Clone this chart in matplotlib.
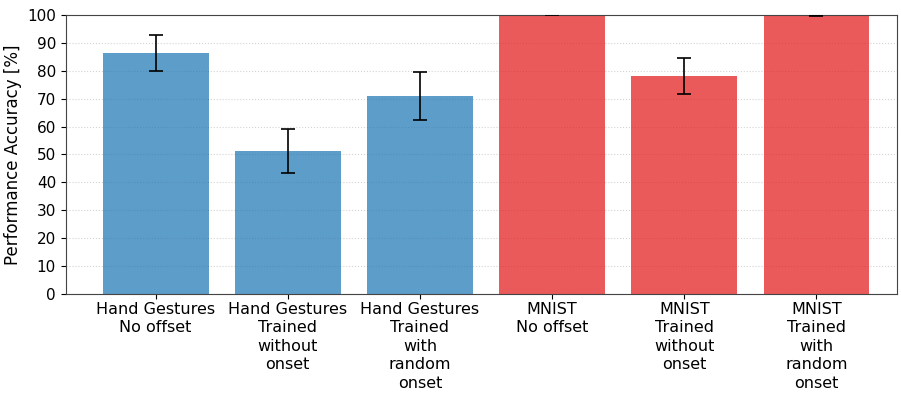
import numpy as np
import matplotlib.pyplot as plt

labels = ['Hand Gestures\nNo offset', 'Hand Gestures\nTrained\nwithout\nonset',
          'Hand Gestures\nTrained\nwith\nrandom\nonset', 'MNIST\nNo offset',
          'MNIST\nTrained\nwithout\nonset', 'MNIST\nTrained\nwith\nrandom\nonset']
accuracy = [86.3, 51.3, 70.9, 100.0, 78.2, 99.7]
errors = [6.4, 7.9, 8.6, 0.2, 6.4, 0.2]
colors = ['#1f77b4'] * 3 + ['#e41a1c'] * 3

fig = plt.figure(figsize=(9.01, 3.93), dpi=100)
ax = fig.add_axes([0.073, 0.252, 0.9226, 0.71])
x = np.arange(len(labels))
ax.bar(x, accuracy, width=0.8, color=colors, alpha=0.72, zorder=2)
ax.errorbar(x, accuracy, yerr=errors, fmt='none', ecolor='black', capsize=5,
            elinewidth=1.2, capthick=1.2, zorder=3)
ax.set_xticks(x)
ax.set_xticklabels(labels, fontsize=11.5, linespacing=1.3)
ax.tick_params(axis='x', pad=2)
ax.set_xlim(-0.68, 5.61)
ax.set_ylim(0, 100)
ax.set_yticks(np.arange(0, 101, 10))
ax.tick_params(axis='y', labelsize=11)
ax.set_ylabel('Performance Accuracy [%]', fontsize=12, labelpad=4)
ax.grid(axis='y', linestyle=':', color='lightgray', zorder=0)
for s in ax.spines.values():
    s.set_color('#444444')
plt.savefig('out.png')
